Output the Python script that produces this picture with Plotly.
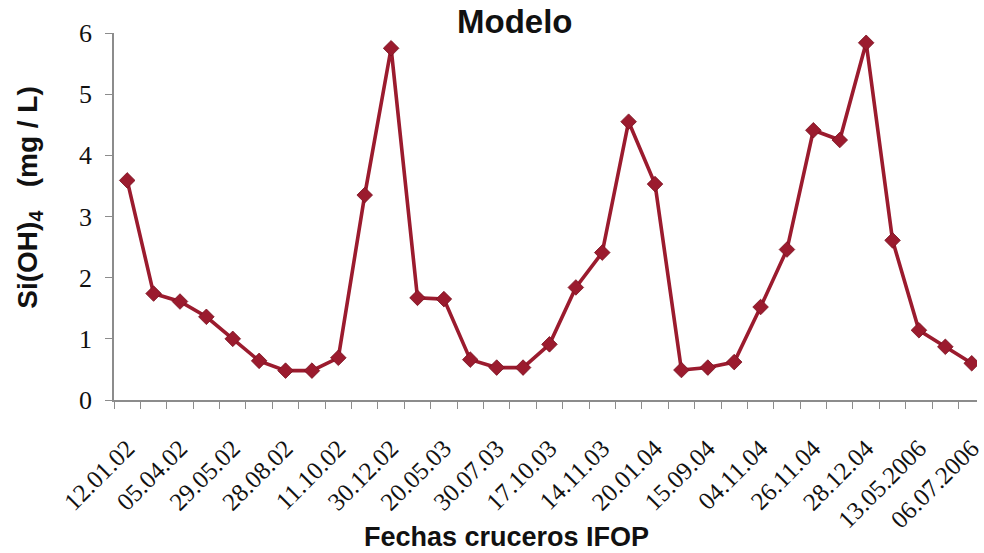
import plotly.graph_objects as go

# Silicate model series (mg/L) for the IFOP cruises
fechas = [
    "12.01.02", "", "05.04.02", "", "29.05.02", "", "28.08.02", "", "11.10.02", "",
    "30.12.02", "", "20.05.03", "", "30.07.03", "", "17.10.03", "", "14.11.03", "",
    "20.01.04", "", "15.09.04", "", "04.11.04", "", "26.11.04", "", "28.12.04", "",
    "13.05.2006", "", "06.07.2006",
]
silicato = [
    3.59, 1.74, 1.61, 1.36, 1.00, 0.64, 0.48, 0.48, 0.69, 3.35,
    5.75, 1.67, 1.65, 0.66, 0.53, 0.53, 0.91, 1.84, 2.41, 4.55,
    3.53, 0.49, 0.53, 0.62, 1.52, 2.46, 4.41, 4.25, 5.84, 2.61,
    1.14, 0.87, 0.60,
]
y_ticks = [0, 1, 2, 3, 4, 5, 6]

W, H = 984, 553
L, R, T, B = 114, 0, 33, 153
RED = "#9B1B2E"
AXIS = "#8c8c8c"

idx = list(range(len(silicato)))
label_idx = [i for i, f in enumerate(fechas) if f]
label_txt = [fechas[i] for i in label_idx]


def px_to_paper(px, py):
    return (px - L) / (W - L - R), (H - B - py) / (H - T - B)


fig = go.Figure()
fig.add_trace(go.Scatter(
    x=idx, y=silicato, mode="lines+markers",
    line=dict(color=RED, width=3.6),
    marker=dict(symbol="diamond", size=12, color=RED,
                line=dict(color="#7a1020", width=0.8)),
    showlegend=False, hoverinfo="x+y",
))

fig.update_xaxes(
    range=[-0.5, 32.2],
    tickmode="array", tickvals=label_idx, ticktext=label_txt,
    tickangle=-45, ticks="", ticklabelstandoff=22,
    ticklabeloverflow="allow",
    tickfont=dict(family="Liberation Serif", size=25, color="#111"),
    showline=True, linecolor=AXIS, linewidth=1.5,
    showgrid=False, zeroline=False,
    minor=dict(tickmode="array", tickvals=[i - 0.5 for i in range(len(silicato))],
               ticks="outside", ticklen=7, tickwidth=1.2, tickcolor=AXIS,
               showgrid=False),
)
fig.update_yaxes(
    range=[0, 6], tickmode="array", tickvals=y_ticks,
    ticks="outside", ticklen=7, tickwidth=1.2, tickcolor=AXIS,
    ticklabelstandoff=8,
    tickfont=dict(family="Liberation Serif", size=26, color="#111"),
    showline=True, linecolor=AXIS, linewidth=1.5,
    showgrid=False, zeroline=False,
)

annotations = []
tx, ty = px_to_paper(518, 22)
annotations.append(dict(text="<b>Modelo</b>", x=tx, y=ty, xref="paper", yref="paper",
                        xanchor="center", yanchor="middle", showarrow=False,
                        font=dict(family="Liberation Sans", size=33, color="#111")))
xx, xy = px_to_paper(510, 537)
annotations.append(dict(text="<b>Fechas cruceros IFOP</b>", x=xx, y=xy,
                        xref="paper", yref="paper", xanchor="center", yanchor="middle",
                        showarrow=False,
                        font=dict(family="Liberation Sans", size=27, color="#111")))
yx, yy = px_to_paper(28, 198)
annotations.append(dict(text="<b>Si(OH)<sub>4</sub>&nbsp;&nbsp;&nbsp;(mg / L)</b>", x=yx, y=yy,
                        xref="paper", yref="paper", xanchor="center", yanchor="middle",
                        textangle=-90, showarrow=False,
                        font=dict(family="Liberation Sans", size=28, color="#111")))

fig.update_layout(
    width=W, height=H,
    margin=dict(l=L, r=R, t=T, b=B),
    paper_bgcolor="white", plot_bgcolor="white",
    annotations=annotations,
)

fig.write_html("out.html")
